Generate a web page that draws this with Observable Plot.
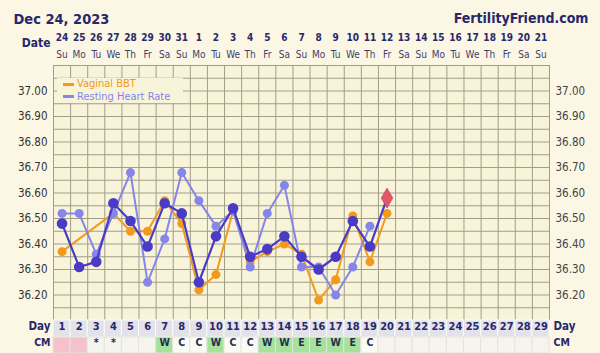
<!DOCTYPE html>
<html>
<head>
<meta charset="utf-8">
<script src="https://cdn.jsdelivr.net/npm/d3@7"></script>
<script src="https://cdn.jsdelivr.net/npm/@observablehq/plot@0.6"></script>
<style>
  body { margin: 0; background: #fbf7e4; }
  #wrap { position: relative; width: 600px; height: 353px; overflow: hidden; }
  #legend { position: absolute; left: 57px; top: 78px; width: 126px; height: 25px; background: #f8f4da;
    font-family: "DejaVu Sans Condensed", "DejaVu Sans", sans-serif; font-size: 11px; line-height: 12.5px; }
  #legend .it { display: flex; align-items: center; }
  #legend .sw { display: inline-block; width: 11px; height: 3px; margin: 0 3px 0 6px; }
</style>
</head>
<body>
<div id="wrap">
  <div id="chart"></div>
  <div id="legend">
    <div class="it" style="color:#f39a1e"><span class="sw" style="background:#f39a1e"></span>Vaginal BBT</div>
    <div class="it" style="color:#8585ea"><span class="sw" style="background:#8585ea"></span>Resting Heart Rate</div>
  </div>
</div>
<script>
// ---- data ----
const cycleDays = [1,2,3,4,5,6,7,8,9,10,11,12,13,14,15,16,17,18,19,20,21,22,23,24,25,26,27,28,29];
const dateLabels = ["24","25","26","27","28","29","30","31","1","2","3","4","5","6","7","8","9","10","11","12","13","14","15","16","17","18","19","20","21"];
const weekdayLabels = ["Su","Mo","Tu","We","Th","Fr","Sa","Su","Mo","Tu","We","Th","Fr","Sa","Su","Mo","Tu","We","Th","Fr","Sa","Su","Mo","Tu","We","Th","Fr","Sa","Su"];
// temperature (main chart, dark)
const tempValues = [36.48,36.31,36.33,36.56,36.49,36.39,36.56,36.52,36.25,36.43,36.54,36.35,36.38,36.43,36.35,36.30,36.35,36.49,36.39,36.58];
// Vaginal BBT overlay (null = not recorded)
const bbtValues = [36.37,null,null,36.52,36.45,36.45,36.57,36.48,36.22,36.28,36.53,36.33,36.37,36.40,36.36,36.18,36.26,36.51,36.33,36.52];
// Resting heart rate overlay (scaled to temperature axis)
const hrValues = [36.52,36.52,36.36,36.52,36.68,36.25,36.42,36.68,36.57,36.47,36.53,36.31,36.52,36.63,36.31,36.31,36.20,36.31,36.47];
const todayDay = 20;
const yTicks = [36.2,36.3,36.4,36.5,36.6,36.7,36.8,36.9,37.0];
const periodDays = [1,2];
const cmValues = ["","","*","*","","","W","C","C","W","C","C","W","W","E","E","W","E","C","","","","","","","","","",""];

// ---- layout ----
const W = 600, H = 353, mT = 65, mB = 33, mL = 53, mR = 51;
const yLo = 36.1, yHi = 37.1;
const pxPerUnit = (H - mT - mB) / (yHi - yLo);
const yAt = px => yHi - (px - mT) / pxPerUnit; // pixel row -> y value (for table rows)

const navy = "#27286a";
const orange = "#f39a1e", light = "#8585ea", dark = "#4a3bc6";
const font = "'DejaVu Sans Condensed', 'DejaVu Sans', sans-serif";

const rows = arr => arr.map((v, i) => ({day: cycleDays[i], v})).filter(d => d.v != null);
const tempRows = rows(tempValues);
const bbtRows = rows(bbtValues);
const hrRows = rows(hrValues);
const headRows = cycleDays.map((d, i) => ({day: d, date: dateLabels[i], wd: weekdayLabels[i]}));
const cmRows = cycleDays.map((d, i) => {
  const t = cmValues[i];
  let fill = "#f5f4ee";
  if (periodDays.includes(d)) fill = "#f5c2cc";
  else if (t === "W" || t === "E") fill = "#a6e29c";
  else if (t === "C") fill = "#fbfbf6";
  return {day: d, t, fill};
});

const vLines = [0.5, ...cycleDays.map(d => d + 0.5)];
const hLines = d3.range(0, 21).map(i => +(yLo + i * 0.05).toFixed(2));

const dayTop = yAt(320), dayBot = yAt(337), cmBot = yAt(353);

const chart = Plot.plot({
  width: W, height: H,
  marginTop: mT, marginBottom: mB, marginLeft: mL, marginRight: mR,
  style: {background: "transparent", fontFamily: font, overflow: "visible"},
  x: {domain: [0.5, 29.5], axis: null},
  y: {domain: [yLo, yHi], axis: null},
  marks: [
    Plot.frame({fill: "#f8f4da"}),
    Plot.ruleX(vLines, {stroke: "#a19d8a", strokeWidth: 1}),
    Plot.ruleY(hLines, {stroke: "#a19d8a", strokeWidth: 1}),
    // overlays
    Plot.line(bbtRows, {x: "day", y: "v", stroke: orange, strokeWidth: 2}),
    Plot.dot(bbtRows, {x: "day", y: "v", r: 4.5, fill: orange}),
    Plot.line(hrRows, {x: "day", y: "v", stroke: light, strokeWidth: 2}),
    Plot.dot(hrRows, {x: "day", y: "v", r: 4.5, fill: light}),
    Plot.line(tempRows, {x: "day", y: "v", stroke: dark, strokeWidth: 2.2}),
    Plot.dot(tempRows.filter(d => d.day !== todayDay), {x: "day", y: "v", r: 5.3, fill: dark}),
    Plot.dot(tempRows.filter(d => d.day === todayDay), {x: "day", y: "v", r: 6, symbol: "diamond", fill: "#e2566a", stroke: "#c9475a", strokeWidth: 0.8}),
    // y axes
    Plot.axisY(yTicks, {anchor: "left", label: null, tickSize: 0, tickPadding: 6, tickFormat: ".2f", fontSize: 11.5, fill: "#333"}),
    Plot.axisY(yTicks, {anchor: "right", label: null, tickSize: 0, tickPadding: 6, tickFormat: ".2f", fontSize: 11.5, fill: "#444"}),
    // header
    Plot.text(["Dec 24, 2023"], {frameAnchor: "top-left", dx: -40, dy: -52, textAnchor: "start", fontSize: 14.5, fontWeight: "bold", fill: navy}),
    Plot.text(["FertilityFriend.com"], {frameAnchor: "top-right", dx: 39, dy: -52, textAnchor: "end", fontSize: 14, fontWeight: "bold", fill: navy}),
    Plot.text(["Date"], {frameAnchor: "top-left", dx: -3, dy: -27, textAnchor: "end", fontSize: 12, fontWeight: "bold", fill: navy}),
    Plot.text(headRows, {x: "day", text: "date", frameAnchor: "top", dy: -32, fontSize: 10, fontWeight: "bold", fill: navy}),
    Plot.text(headRows, {x: "day", text: "wd", frameAnchor: "top", dy: -15, fontSize: 10, fill: "#3c3f6a"}),
    // bottom table
    Plot.rect(cycleDays, {x1: d => d - 0.5, x2: d => d + 0.5, y1: dayTop, y2: dayBot, fill: "#e3e2ea", stroke: "#fbfaf3", strokeWidth: 1}),
    Plot.rect(cmRows, {x1: d => d.day - 0.5, x2: d => d.day + 0.5, y1: dayBot, y2: cmBot, fill: "fill", stroke: "#e4e3dc", strokeWidth: 1}),
    Plot.text(cycleDays, {x: d => d, text: d => String(d), frameAnchor: "bottom", dy: 9, fontSize: 11, fontWeight: "bold", fill: navy}),
    Plot.text(cmRows, {x: "day", text: "t", frameAnchor: "bottom", dy: 25.5, fontSize: 10.5, fontWeight: "bold", fill: "#2a2d52"}),
    Plot.text(["Day"], {frameAnchor: "bottom-left", dx: -3, dy: 9, textAnchor: "end", fontSize: 11.5, fontWeight: "bold", fill: navy}),
    Plot.text(["CM"], {frameAnchor: "bottom-left", dx: -3, dy: 25.5, textAnchor: "end", fontSize: 10.5, fontWeight: "bold", fill: navy}),
    Plot.text(["Day"], {frameAnchor: "bottom-right", dx: 4, dy: 9, textAnchor: "start", fontSize: 11.5, fontWeight: "bold", fill: navy}),
    Plot.text(["CM"], {frameAnchor: "bottom-right", dx: 4, dy: 25.5, textAnchor: "start", fontSize: 10.5, fontWeight: "bold", fill: navy})
  ]
});
document.getElementById("chart").appendChild(chart);
</script>
</body>
</html>
